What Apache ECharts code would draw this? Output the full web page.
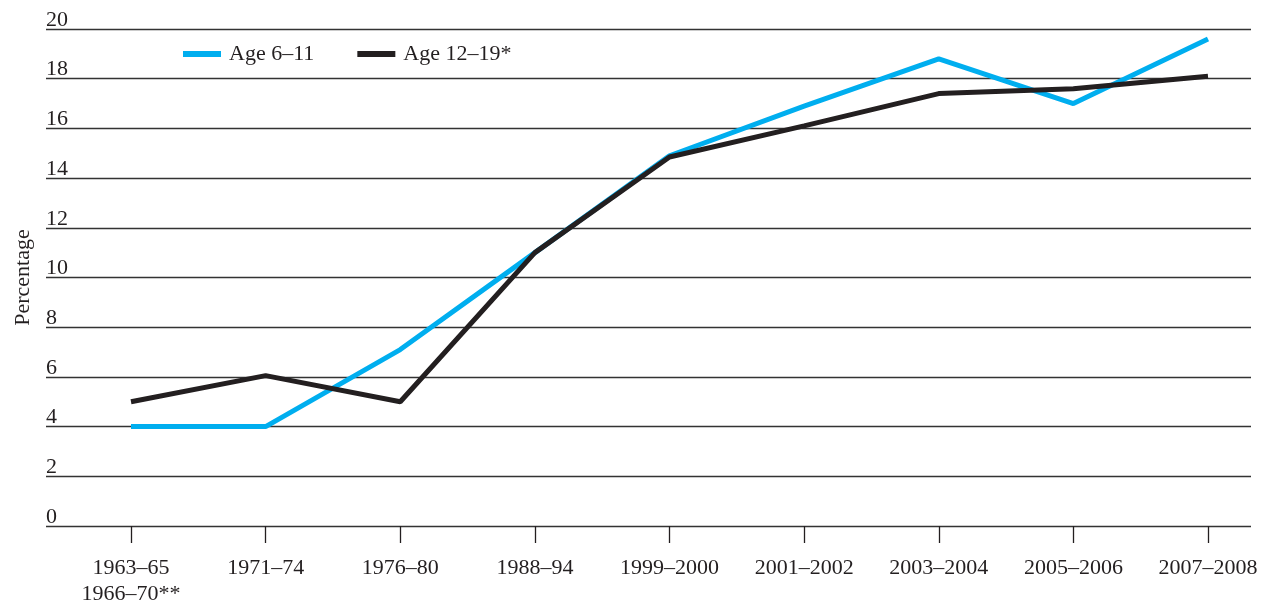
<!DOCTYPE html>
<html><head><meta charset="utf-8">
<script src="https://cdn.jsdelivr.net/npm/echarts@6/dist/echarts.min.js"></script>
<style>html,body{margin:0;padding:0;background:#fff}#c{width:1268px;height:606px}</style>
</head><body><div id="c"></div>
<script>
const categories = ['1963–65\n1966–70**','1971–74','1976–80','1988–94','1999–2000','2001–2002','2003–2004','2005–2006','2007–2008'];
const age6to11 = [4, 4, 7.1, 11, 14.9, 16.9, 18.8, 17.0, 19.6];
const age12to19 = [5, 6.05, 5, 11, 14.85, 16.1, 17.4, 17.6, 18.1];
const yTicks = [0, 2, 4, 6, 8, 10, 12, 14, 16, 18, 20];
const seriesNames = ['Age 6–11', 'Age 12–19*'];

const font = 'Liberation Serif';
const ink = '#231f20';
const chart = echarts.init(document.getElementById('c'), null, {renderer: 'canvas'});
chart.setOption({
  animation: false,
  legend: {
    left: 183, top: 43, padding: 0, itemWidth: 38, itemHeight: 6, itemGap: 43,
    icon: 'rect',
    textStyle: {fontFamily: font, fontSize: 22, color: ink, padding: [0,0,0,3]},
    data: seriesNames
  },
  grid: [
    {left: 46, right: 17, top: 29, bottom: 80, containLabel: false, outerBoundsMode: 'none'},
    {left: 131, right: 60, top: 29, bottom: 80, containLabel: false, outerBoundsMode: 'none'}
  ],
  xAxis: [
    {gridIndex: 0, type: 'value', min: 0, max: 1, show: false},
    {gridIndex: 1, type: 'category', boundaryGap: false, data: categories,
     axisLine: {show: false},
     axisTick: {show: true, length: 17, lineStyle: {color: ink, width: 1.3}},
     axisLabel: {fontFamily: font, fontSize: 22, color: ink, margin: 29, lineHeight: 26, interval: 0}}
  ],
  yAxis: [
    {gridIndex: 0, type: 'value', min: yTicks[0], max: yTicks[yTicks.length-1], interval: 2,
     axisLine: {show: false}, axisTick: {show: false},
     splitLine: {show: true, lineStyle: {color: '#333', width: 1.4}},
     axisLabel: {inside: true, margin: 0, verticalAlign: 'bottom', lineHeight: 18, fontFamily: font, fontSize: 22, color: ink},
     name: 'Percentage', nameLocation: 'middle', nameRotate: 90, nameGap: 12,
     nameTextStyle: {fontFamily: font, fontSize: 22, color: ink}},
    {gridIndex: 1, type: 'value', min: yTicks[0], max: yTicks[yTicks.length-1], show: false}
  ],
  series: [
    {name: seriesNames[0], type: 'line', xAxisIndex: 1, yAxisIndex: 1, data: age6to11,
     symbol: 'none', lineStyle: {color: '#00aeef', width: 5}, itemStyle: {color: '#00aeef'}, z: 3},
    {name: seriesNames[1], type: 'line', xAxisIndex: 1, yAxisIndex: 1, data: age12to19,
     symbol: 'none', lineStyle: {color: ink, width: 5}, itemStyle: {color: ink}, z: 4}
  ]
});
</script></body></html>
